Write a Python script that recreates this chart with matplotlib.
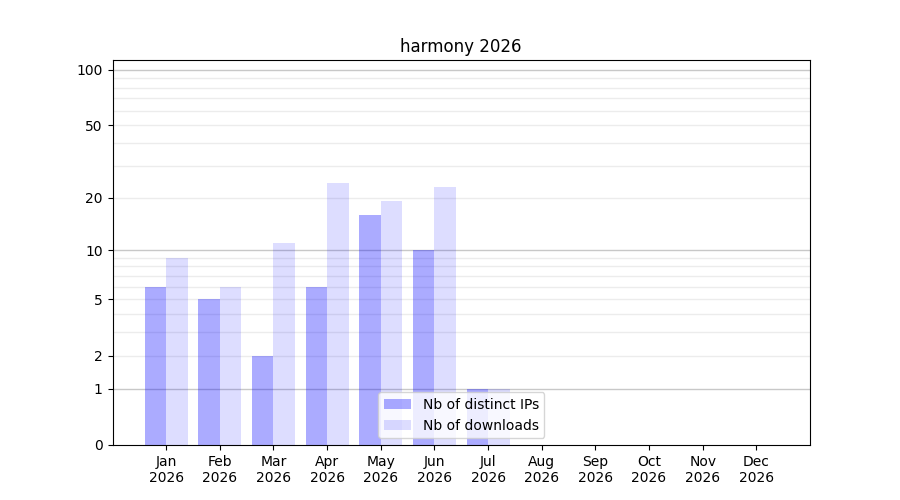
import matplotlib
matplotlib.use("Agg")
import matplotlib.pyplot as plt
import numpy as np

months = ["Jan", "Feb", "Mar", "Apr", "May", "Jun", "Jul", "Aug", "Sep", "Oct", "Nov", "Dec"]
year = "2026"
distinct_ips = [6, 5, 2, 6, 16, 10, 1, 0, 0, 0, 0, 0]
downloads = [9, 6, 11, 24, 19, 23, 1, 0, 0, 0, 0, 0]
y_ticks = [0, 1, 2, 5, 10, 20, 50, 100]


def forward(v):
    return np.log10(1 + np.maximum(v, 0))


def inverse(v):
    return 10 ** v - 1


fig, ax = plt.subplots(figsize=(9, 5), dpi=100)
ax.set_yscale("function", functions=(forward, inverse))

x = np.arange(len(months))
ax.bar(x - 0.2, distinct_ips, width=0.4, color="blue", alpha=0.33, label="Nb of distinct IPs")
ax.bar(x + 0.2, downloads, width=0.4, color="blue", alpha=0.133, label="Nb of downloads")

# grid: darker at decades, light between
for d in [1, 10, 100]:
    ax.axhline(d, color="#c8c8c8", lw=1, zorder=0)
for d in [1, 10]:
    for k in range(2, 10):
        ax.axhline(d * k, color="#ececec", lw=1, zorder=0)

ax.set_ylim(0, 113)
ax.set_yticks(y_ticks)
ax.set_yticklabels([str(t) for t in y_ticks])
ax.minorticks_off()
ax.set_xlim(-1, 12)
ax.set_xticks(x)
ax.set_xticklabels([m + "\n" + year for m in months])
ax.set_title("harmony 2026")
ax.legend(loc="lower center")

plt.savefig("out.png")
